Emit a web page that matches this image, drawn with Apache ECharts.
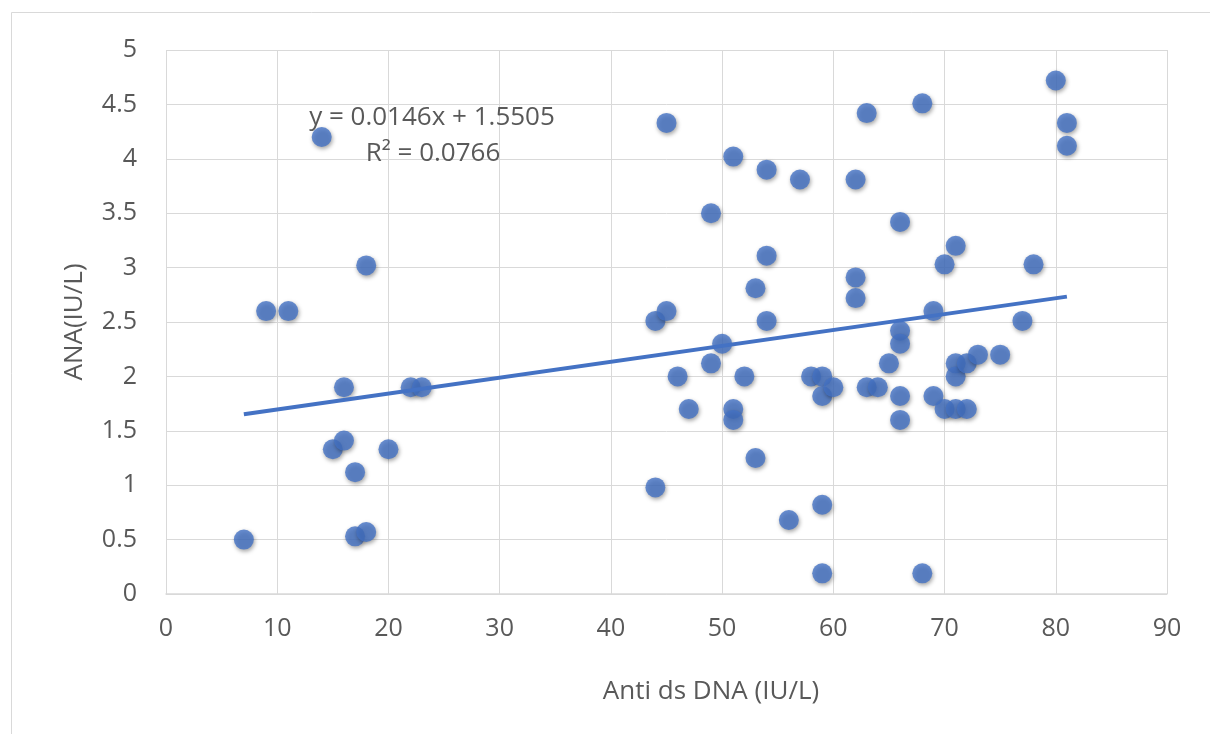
<!DOCTYPE html>
<html>
<head>
<meta charset="utf-8">
<script src="https://cdn.jsdelivr.net/npm/echarts@6/dist/echarts.min.js"></script>
<style>
html,body{margin:0;padding:0;background:#fff;}
#chart{width:1210px;height:734px;}
</style>
</head>
<body>
<div id="chart"></div>
<script>
// Anti ds DNA (IU/L) values
const antiDsDna = [
  7, 9, 11, 14, 18, 16, 15, 16, 17, 17, 18, 20, 22, 23,
  44, 44, 45, 45, 46, 47, 49, 49, 50, 51, 51, 51, 52, 53, 53,
  54, 54, 54, 56, 57, 58, 59, 59, 59, 59, 60,
  62, 62, 62, 63, 63, 64, 65, 66, 66, 66, 66, 66,
  68, 68, 69, 69, 70, 70, 71, 71, 71, 71, 72, 72, 73, 75, 77, 78, 80, 81, 81
];
// ANA (IU/L) values
const ana = [
  0.5, 2.6, 2.6, 4.2, 3.02, 1.9, 1.33, 1.41, 1.12, 0.53, 0.57, 1.33, 1.9, 1.9,
  0.98, 2.51, 2.6, 4.33, 2.0, 1.7, 3.5, 2.12, 2.3, 4.02, 1.7, 1.6, 2.0, 2.81, 1.25,
  3.9, 3.11, 2.51, 0.68, 3.81, 2.0, 2.0, 1.82, 0.82, 0.19, 1.9,
  3.81, 2.91, 2.72, 4.42, 1.9, 1.9, 2.12, 3.42, 2.42, 2.3, 1.82, 1.6,
  4.51, 0.19, 2.6, 1.82, 3.03, 1.7, 3.2, 2.12, 2.0, 1.7, 2.12, 1.7, 2.2, 2.2, 2.51, 3.03, 4.72, 4.33, 4.12
];
// Linear trendline shown on the chart
const trendSlope = 0.0146;
const trendIntercept = 1.5505;
const equationLabel = 'y = 0.0146x + 1.5505';
const r2Label = 'R² = 0.0766';
const xAxisTitle = 'Anti ds DNA (IU/L)';
const yAxisTitle = 'ANA(IU/L)';

const points = antiDsDna.map((x, i) => [x, ana[i]]);
const xMin = Math.min(...antiDsDna), xMax = Math.max(...antiDsDna);
const trend = [xMin, xMax].map(x => [x, trendSlope * x + trendIntercept]);

const FONT = '"Open Sans", "Noto Sans", sans-serif';
const TXT = '#595959';
const BLUE = '#4472C4';

const chart = echarts.init(document.getElementById('chart'), null, {renderer: 'canvas'});
chart.setOption({
  animation: false,
  backgroundColor: '#ffffff',
  grid: {left: 166, top: 50, right: 43, bottom: 140, containLabel: false},
  xAxis: {
    type: 'value', min: 0, max: 90, interval: 10,
    axisLine: {show: true, lineStyle: {color: '#d9d9d9', width: 1.5}},
    axisTick: {show: false},
    axisLabel: {color: TXT, fontFamily: FONT, fontSize: 25, margin: 22},
    splitLine: {show: true, lineStyle: {color: '#d9d9d9', width: 1}}
  },
  yAxis: {
    type: 'value', min: 0, max: 5, interval: 0.5,
    axisLine: {show: false},
    axisTick: {show: false},
    axisLabel: {color: TXT, fontFamily: FONT, fontSize: 25, margin: 29},
    splitLine: {show: true, lineStyle: {color: '#d9d9d9', width: 1}}
  },
  graphic: [
    {type: 'rect', silent: true, z: -1,
     shape: {x: 11.5, y: 12.5, width: 1240, height: 760},
     style: {fill: 'none', stroke: '#d9d9d9', lineWidth: 1}},
    {type: 'text', x: 711, y: 692,
     style: {text: xAxisTitle, fill: TXT, font: '26px ' + FONT, textAlign: 'center', textVerticalAlign: 'middle'}},
    {type: 'text', x: 75, y: 322, rotation: Math.PI / 2,
     style: {text: yAxisTitle, fill: TXT, font: '26px ' + FONT, textAlign: 'center', textVerticalAlign: 'middle'}},
    {type: 'text', x: 432, y: 118, z: 10,
     style: {text: equationLabel, fill: TXT, font: '26px ' + FONT, textAlign: 'center', textVerticalAlign: 'middle'}},
    {type: 'text', x: 433, y: 154, z: 10,
     style: {text: r2Label, fill: TXT, font: '26px ' + FONT, textAlign: 'center', textVerticalAlign: 'middle'}}
  ],
  series: [
    {
      type: 'scatter',
      data: points,
      symbol: 'circle',
      symbolSize: 20,
      itemStyle: {
        color: BLUE,
        shadowColor: 'rgba(0,0,0,0.45)',
        shadowBlur: 4,
        shadowOffsetX: 1,
        shadowOffsetY: 2
      },
      z: 2
    },
    {
      type: 'line',
      data: trend,
      symbol: 'none',
      lineStyle: {color: BLUE, width: 4},
      z: 3
    }
  ]
});
</script>
</body>
</html>
